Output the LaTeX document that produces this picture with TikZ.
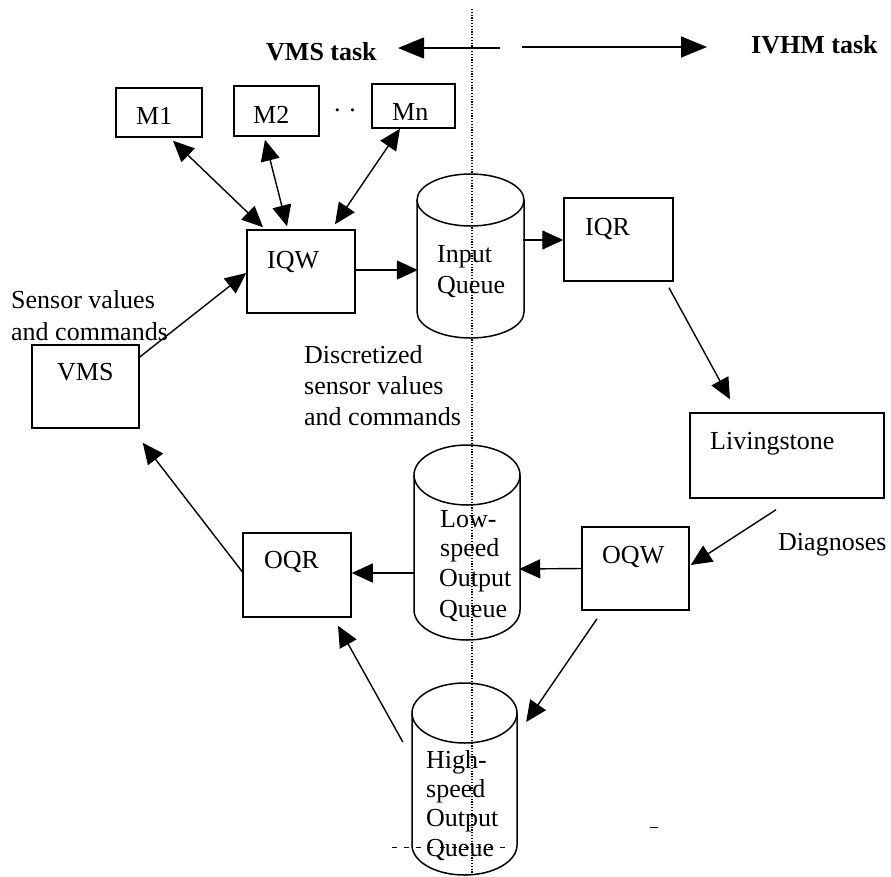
\documentclass[tikz,border=0pt]{standalone}
\usepackage{fontspec}
\setmainfont{Liberation Serif}
\usetikzlibrary{arrows.meta,calc}
\newcommand\qcyl[5]{%
  \draw[cyl] (#1,#2) ellipse[x radius=#4pt, y radius=#5pt];
  \draw[cyl] (#1-#4,#2) -- (#1-#4,#3) arc[start angle=180, end angle=360, x radius=#4pt, y radius=#5pt] -- (#1+#4,#2);
}
\begin{document}
\begin{tikzpicture}[x=1pt,y=-1pt,
  box/.style={draw, line width=1.5pt, inner sep=0pt},
  ghost/.style={inner sep=0pt},
  cyl/.style={line width=1.5pt},
  lbl/.style={inner sep=0pt, anchor=base west, font=\fontsize{26}{31}\selectfont},
  blbl/.style={lbl, font=\fontsize{26}{31}\selectfont\bfseries},
  conn/.style={line width=1.4pt, -{Triangle[length=21pt,width=19pt]}},
  biconn/.style={line width=1.4pt, {Triangle[length=21pt,width=19pt]}-{Triangle[length=21pt,width=19pt]}},
  bigconn/.style={line width=1.5pt, -{Triangle[length=26pt,width=21pt]}},
  dotline/.style={line width=1.1pt, dash pattern=on 1.2pt off 1.6pt},
  faint/.style={line width=0.7pt, dash pattern=on 5pt off 7pt}]
\useasboundingbox (0,0) rectangle (891,876);

% boxes
\node[box, minimum width=86pt, minimum height=49pt] (m1) at (159,112.5) {};
\node[box, minimum width=85pt, minimum height=50pt] (m2) at (276.5,111) {};
\node[box, minimum width=83pt, minimum height=44pt] (mn) at (413.5,106) {};
\node[box, minimum width=108pt, minimum height=83pt] (iqw) at (301,271.5) {};
\node[box, minimum width=109pt, minimum height=83pt] (iqr) at (618.5,239.5) {};
\node[box, minimum width=107pt, minimum height=83pt] (vms) at (85.5,386.5) {};
\node[box, minimum width=194pt, minimum height=85pt] (liv) at (787,455.5) {};
\node[box, minimum width=107pt, minimum height=83pt] (oqw) at (635.5,568.5) {};
\node[box, minimum width=108pt, minimum height=84pt] (oqr) at (297,575) {};

% cylinders
\node[ghost, minimum width=107pt, minimum height=164pt] (inq) at (470.5,256) {};
\qcyl{470.5}{200}{312}{53.5}{26}
\node[ghost, minimum width=106pt, minimum height=195pt] (lsq) at (467,542.5) {};
\qcyl{467}{475}{610}{53}{30}
\node[ghost, minimum width=105pt, minimum height=192pt] (hsq) at (464.5,779) {};
\qcyl{464.5}{713}{845}{52.5}{30}

% labels in boxes
\node[lbl] (m1t) at (136,124) {M1};
\node[lbl] (m2t) at (253,123) {M2};
\node[lbl] (mnt) at (392,120) {Mn};
\node[lbl] (dots) at (334,111) {. .};
\node[lbl] (iqwt) at (267,268) {IQW};
\node[lbl] (iqrt) at (585,235) {IQR};
\node[lbl] (vmst) at (57,380) {VMS};
\node[lbl] (livt) at (710,449) {Livingstone};
\node[lbl] (oqwt) at (602,563) {OQW};
\node[lbl] (oqrt) at (264,568) {OQR};

% cylinder texts
\node[lbl] (inq1) at (437,262) {Input};
\node[lbl] (inq2) at (437,293) {Queue};
\node[lbl] (lsq1) at (440,527) {Low-};
\node[lbl] (lsq2) at (440,556) {speed};
\node[lbl] (lsq3) at (439,586) {Output};
\node[lbl] (lsq4) at (439,617) {Queue};
\node[lbl] (hsq1) at (426,768) {High-};
\node[lbl] (hsq2) at (426,797) {speed};
\node[lbl] (hsq3) at (426,826) {Output};
\node[lbl] (hsq4) at (426,856) {Queue};

% free texts
\node[blbl] (vmstask) at (266,60) {VMS task};
\node[blbl] (ivhmtask) at (751,53) {IVHM task};
\node[lbl] (sv1) at (11,308) {Sensor values};
\node[lbl] (sv2) at (11,340) {and commands};
\node[lbl] (ds1) at (304,363) {Discretized};
\node[lbl] (ds2) at (304,394) {sensor values};
\node[lbl] (ds3) at (304,425) {and commands};
\node[lbl] (diag) at (778,550) {Diagnoses};

% connectors
\draw[biconn] ([shift={(14,3)}]m1.south) -- ([shift={(-38,-2)}]iqw.north);
\draw[biconn] ([shift={(-11.5,3)}]m2.south) -- ([shift={(-14,-3)}]iqw.north);
\draw[biconn] ([shift={(-13.5,0)}]mn.south) -- ([shift={(34,-5)}]iqw.north);
\draw[conn] ([shift={(0,-29.5)}]vms.east) -- ([shift={(0,1.5)}]iqw.west);
\draw[conn] ([shift={(0,-1.5)}]iqw.east) -- ([shift={(1,14)}]inq.west);
\draw[conn] ([shift={(-1,-16)}]inq.east) -- ([shift={(0,0.5)}]iqr.west);
\draw[conn] ([shift={(50.5,6)}]iqr.south) -- ([shift={(-57,-13)}]liv.north);
\draw[conn] ([shift={(-11,11)}]liv.south) -- ([shift={(1,-3.5)}]oqw.east);
\draw[conn] (oqw.west) -- ([shift={(-1,26.5)}]lsq.east);
\draw[conn] ([shift={(0,30.5)}]lsq.west) -- ([shift={(0,-2)}]oqr.east);
\draw[conn] ([shift={(1,-2)}]oqr.west) -- ([shift={(3,14)}]vms.south east);
\draw[conn] ([shift={(-38.5,8)}]oqw.south) -- ([shift={(9,-57)}]hsq.east);
\draw[conn] ([shift={(-9,-37)}]hsq.west) -- ([shift={(41,8)}]oqr.south);

% task arrows
\coordinate (ta1) at (500,48);
\coordinate (ta2) at (398,48);
\coordinate (tb1) at (522,47);
\coordinate (tb2) at (707,47);
\draw[bigconn] (ta1) -- (ta2);
\draw[bigconn] (tb1) -- (tb2);

% divider and scan marks
\coordinate (dtop) at (472,9);
\coordinate (dbot) at (472,876);
\draw[dotline] (dtop) -- (dbot);
\coordinate (fa) at (392,847);
\coordinate (fb) at (511,847);
\draw[faint] (fa) -- (fb);
\coordinate (fc) at (650,827);
\coordinate (fd) at (658,827);
\draw[line width=1pt] (fc) -- (fd);
\end{tikzpicture}
\end{document}
